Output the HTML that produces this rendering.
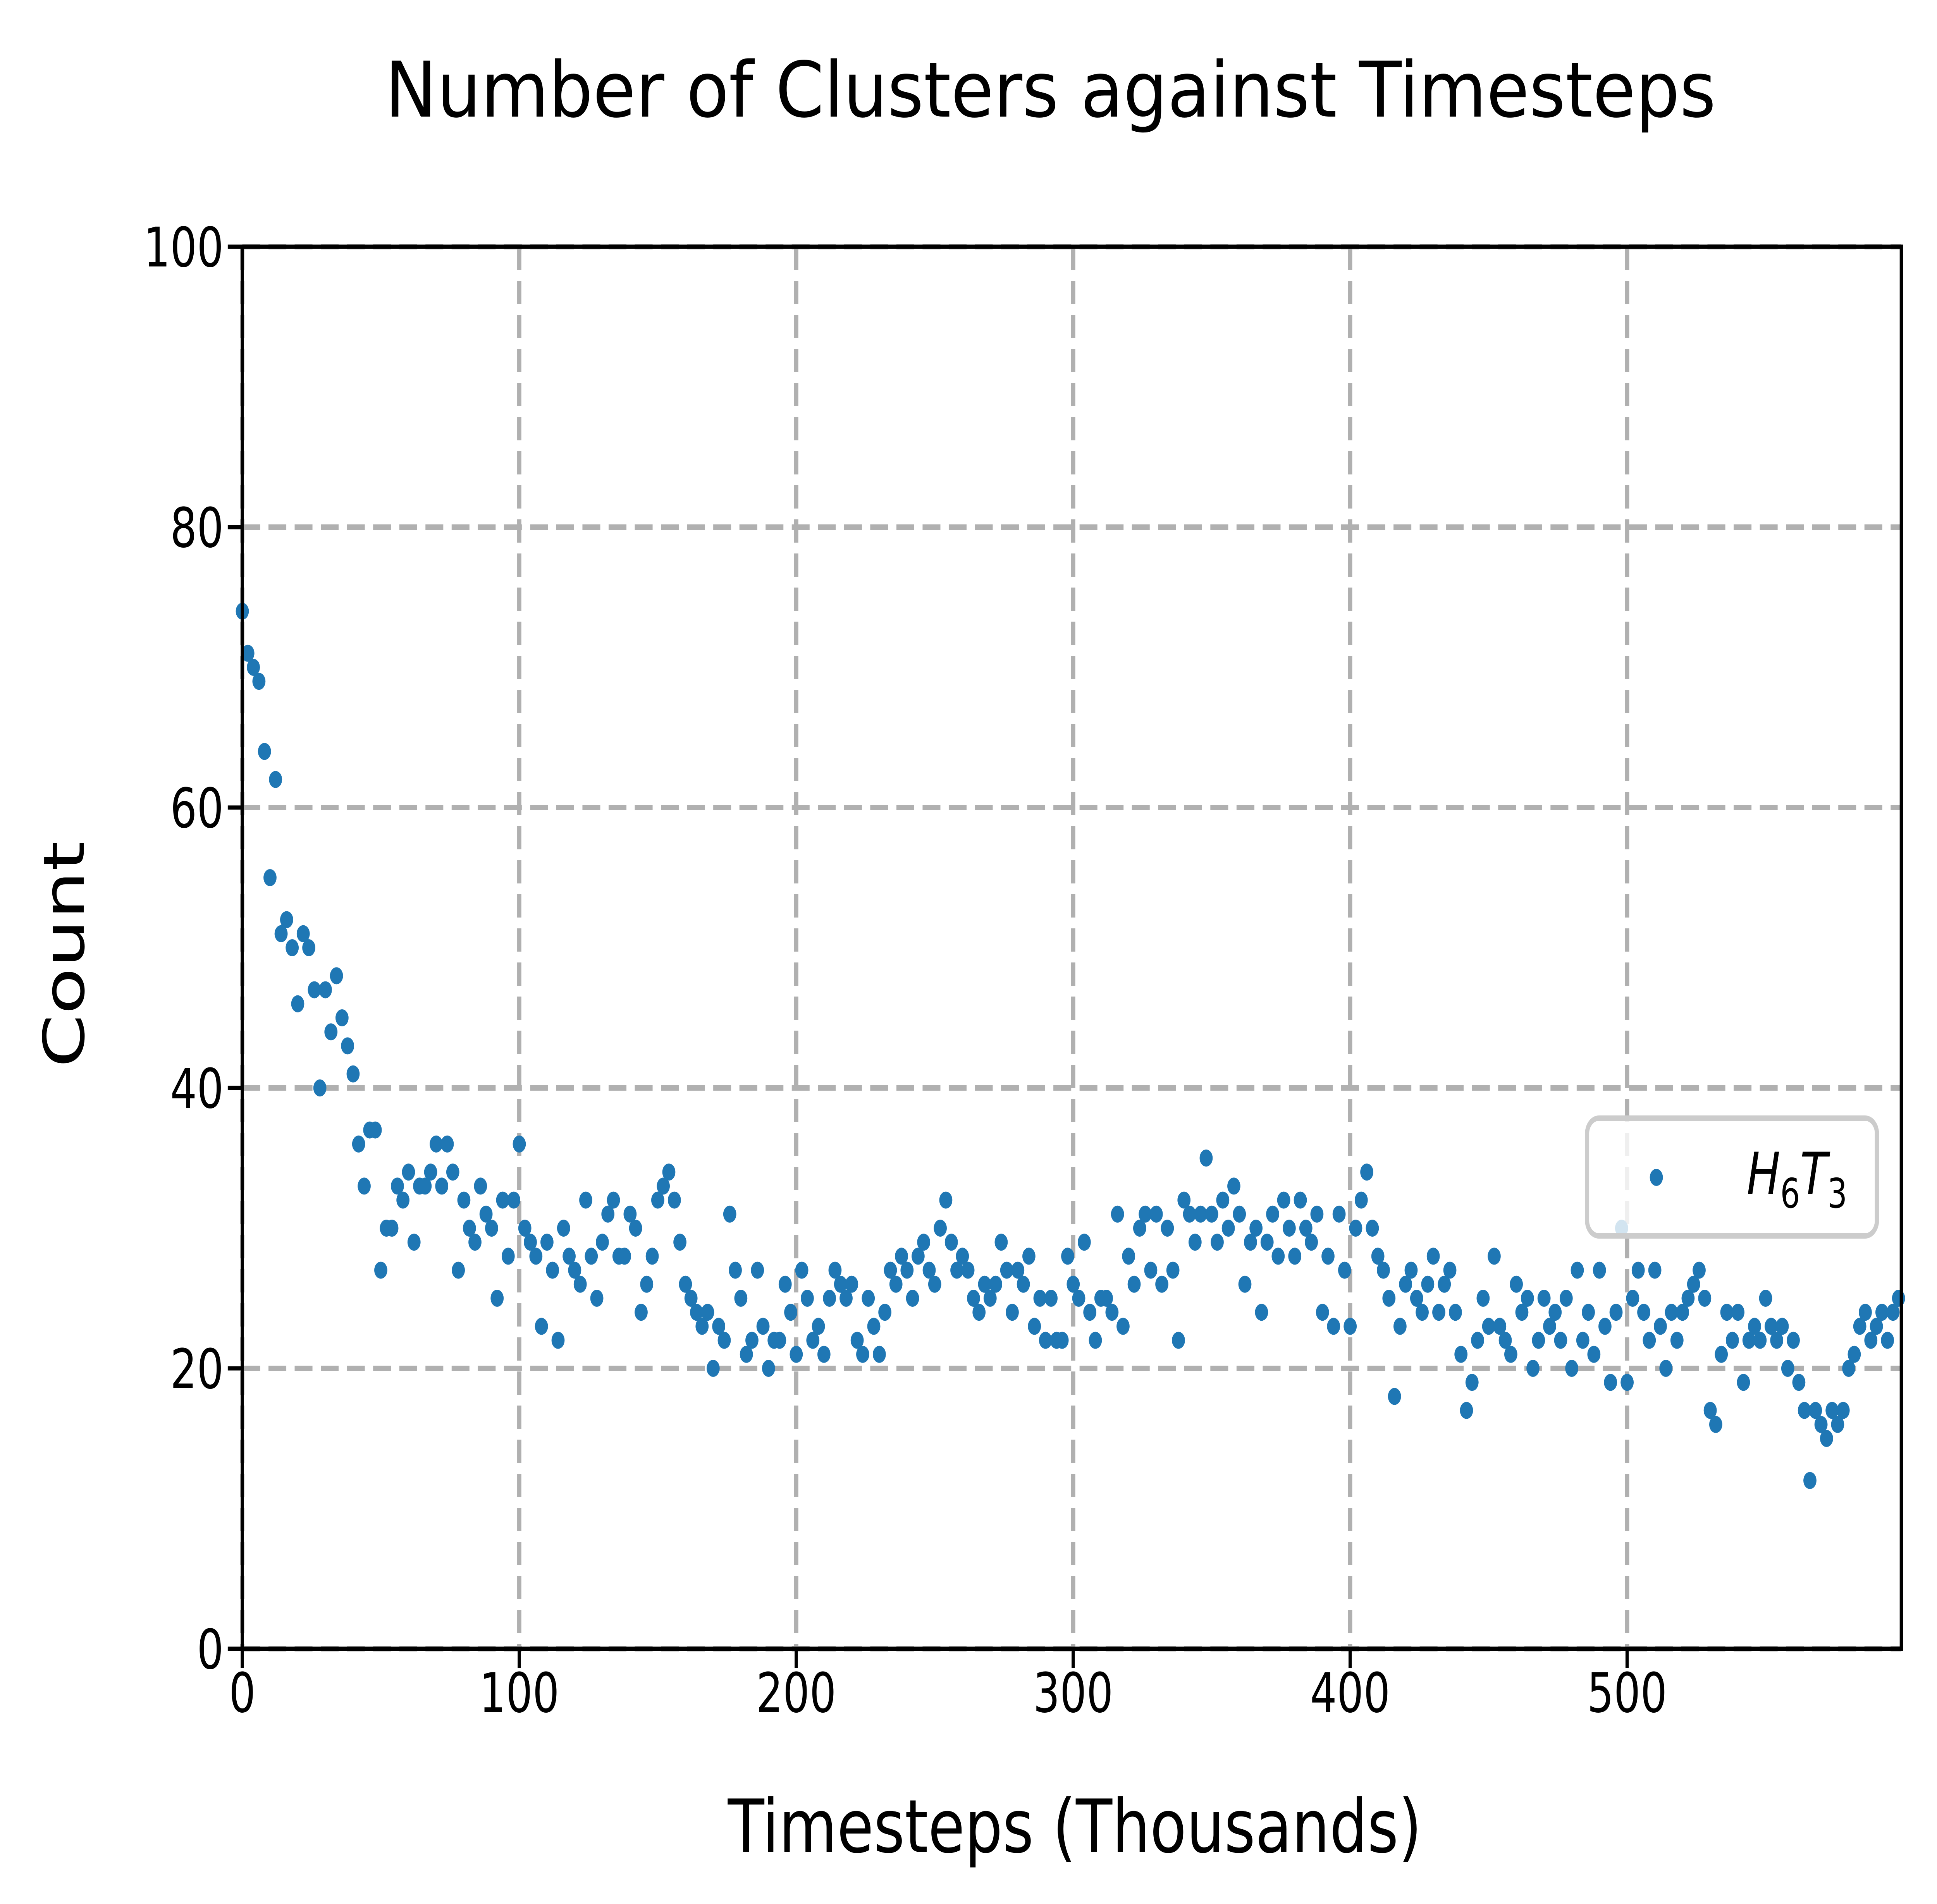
<!DOCTYPE html>
<html><head><meta charset="utf-8"><style>html,body{margin:0;padding:0;background:#fff;overflow:hidden;width:100vw;height:100vh}svg{display:block;width:100vw;height:100vh}</style></head>
<body>
<svg id="chart" viewBox="0 0 6515 4916" preserveAspectRatio="none" xmlns="http://www.w3.org/2000/svg" font-family="'DejaVu Sans','Liberation Sans',sans-serif">
<rect width="6515" height="4916" fill="#fff"/>
<text x="3533" y="301" font-size="198" text-anchor="middle" textLength="4477" lengthAdjust="spacingAndGlyphs">Number of Clusters against Timesteps</text>
<g id="grid"></g>
<g id="marks"></g>
<g id="axes"></g>
<text x="3615" y="4782" font-size="190" text-anchor="middle" textLength="2334" lengthAdjust="spacingAndGlyphs">Timesteps (Thousands)</text>
<text transform="translate(282,2464) rotate(-90)" font-size="190" text-anchor="middle" textLength="585" lengthAdjust="spacingAndGlyphs">Count</text>
<g>
<rect x="5338" y="2887" width="975" height="304" rx="40" fill="#fff" fill-opacity="0.8" stroke="#cccccc" stroke-width="14"/>
<circle cx="5571" cy="3040" r="22" fill="#1f77b4"/>
<text x="5875" y="3083" font-size="150" font-style="italic">H<tspan font-size="105" font-style="normal" dy="35">6</tspan><tspan dy="-35">T</tspan><tspan font-size="105" font-style="normal" dy="35">3</tspan></text>
</g>
</svg>
<script>
const values = [74,71,70,69,64,55,62,51,52,50,46,51,50,47,40,47,44,48,45,43,41,36,33,37,37,27,30,30,33,32,34,29,33,33,34,36,33,36,34,27,32,30,29,33,31,30,25,32,28,32,
36,30,29,28,23,29,27,22,30,28,27,26,32,28,25,29,31,32,28,28,31,30,24,26,28,32,33,34,32,29,26,25,24,23,24,20,23,22,31,27,25,21,22,27,23,20,22,22,26,24,
21,27,25,22,23,21,25,27,26,25,26,22,21,25,23,21,24,27,26,28,27,25,28,29,27,26,30,32,29,27,28,27,25,24,26,25,26,29,27,24,27,26,28,23,25,22,25,22,22,28,
26,25,29,24,22,25,25,24,31,23,28,26,30,31,27,31,26,30,27,22,32,31,29,31,35,31,29,32,30,33,31,26,29,30,24,29,31,28,32,30,28,32,30,29,31,24,28,23,31,27,
23,30,32,34,30,28,27,25,18,23,26,27,25,24,26,28,24,26,27,24,21,17,19,22,25,23,28,23,22,21,26,24,25,20,22,25,23,24,22,25,20,27,22,24,21,27,23,19,24,30,
19,25,27,24,22,27,23,20,24,22,24,25,26,27,25,17,16,21,24,22,24,19,22,23,22,25,23,22,23,20,22,19,17,12,17,16,15,17,16,17,20,21,23,24,22,23,24,22,24,25];
const timesteps = values.map((v, i) => i * 2);
const xTicks = [0,100,200,300,400,500];
const yTicks = [0,20,40,60,80,100];
const L=815,R=6395,T=637,B=4257,XMAX=599,YMAX=100;
const xs=v=>L+(v/XMAX)*(R-L), ys=v=>B-(v/YMAX)*(B-T);
const NS='http://www.w3.org/2000/svg';
function mk(tag,attrs,parent){const e=document.createElementNS(NS,tag);for(const k in attrs)e.setAttribute(k,attrs[k]);parent.appendChild(e);return e;}
const grid=document.getElementById('grid'),marks=document.getElementById('marks'),axes=document.getElementById('axes');
xTicks.forEach(t=>{
  const g=mk('line',{x1:xs(t),x2:xs(t),y1:T,y2:B,stroke:'#b0b0b0','stroke-width':14,'stroke-dasharray':'60 28'},grid);
  
  
  const tk=mk('line',{x1:xs(t),x2:xs(t),y1:B,y2:B+49,stroke:'#000','stroke-width':11},axes);
  
  
  const lb=mk('text',{x:xs(t),y:4420,'font-size':141,'text-anchor':'middle'},axes);
  lb.textContent=t;
  
  
});
yTicks.forEach(t=>{
  const g=mk('line',{x1:L,x2:R,y1:ys(t),y2:ys(t),stroke:'#b0b0b0','stroke-width':14,'stroke-dasharray':'60 28'},grid);
  
  
  const tk=mk('line',{x1:L-49,x2:L,y1:ys(t),y2:ys(t),stroke:'#000','stroke-width':11},axes);
  
  
  const lb=mk('text',{x:752,y:ys(t)+51,'font-size':141,'text-anchor':'end'},axes);
  lb.textContent=t;
  
  
});
values.forEach((v,i)=>{
  const c=mk('circle',{cx:xs(timesteps[i]),cy:ys(v),r:22,fill:'#1f77b4'},marks);
  
  
});
const fr=mk('rect',{x:L,y:T,width:R-L,height:B-T,fill:'none',stroke:'#000','stroke-width':11},axes);


</script>
</body></html>
